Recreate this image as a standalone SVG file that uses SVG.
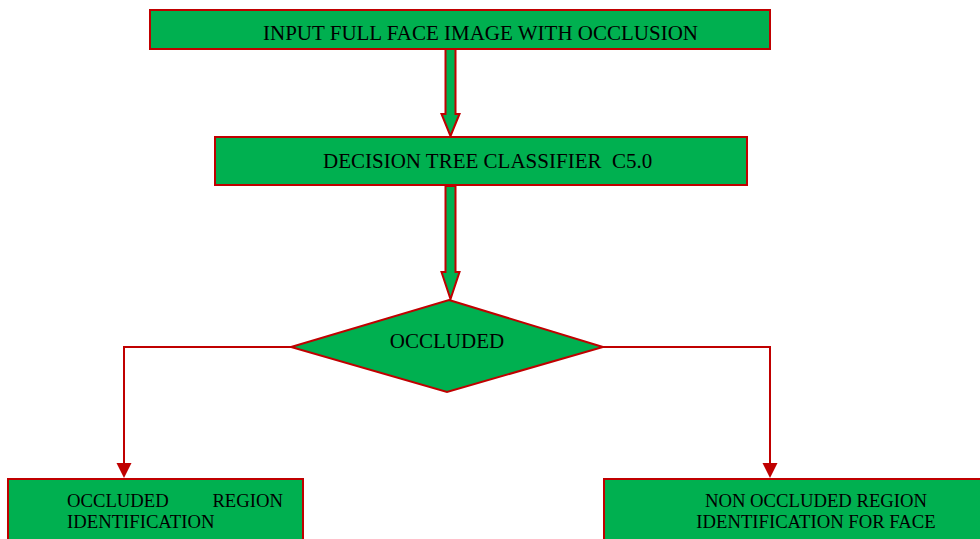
<svg xmlns="http://www.w3.org/2000/svg" width="980" height="539" viewBox="0 0 980 539">
  <style>
    .node { fill: #00B050; stroke: #C00000; stroke-width: 2; }
    .t { font-family: "Liberation Serif", "Times New Roman", serif; fill: #000; }
    .big { font-size: 21px; }
    .small { font-size: 18.7px; }
    .line { fill: none; stroke: #C00000; stroke-width: 2; }
    .fat { fill: #00B050; stroke: #C00000; stroke-width: 2; stroke-linejoin: miter; }
  </style>
  <defs>
    <marker id="ah" markerUnits="userSpaceOnUse" markerWidth="16" markerHeight="16" refX="0" refY="7.5" orient="auto" viewBox="0 0 16 16">
      <path d="M0,0 L15,7.5 L0,15 Z" fill="#C00000"/>
    </marker>
  </defs>
  <rect width="980" height="539" fill="#fff"/>

  <g id="connectors">
    <polygon class="fat" points="445.5,49 455.5,49 455.5,114 459.5,114 450.5,136 441.5,114 445.5,114"/>
    <polygon class="fat" points="445.5,186 455.5,186 455.5,272 459.5,272 450.5,299 441.5,272 445.5,272"/>
    <path class="line" d="M291,347 H124 V463" marker-end="url(#ah)"/>
    <path class="line" d="M603,347 H770 V463" marker-end="url(#ah)"/>
  </g>

  <g id="input">
    <rect class="node" x="150" y="10" width="620" height="39"/>
    <text class="t big" x="480.5" y="40" text-anchor="middle">INPUT FULL FACE IMAGE WITH OCCLUSION</text>
  </g>

  <g id="classifier">
    <rect class="node" x="215" y="137" width="532" height="48"/>
    <text class="t big" x="323" y="168" xml:space="preserve">DECISION TREE CLASSIFIER  C5.0</text>
  </g>

  <g id="occluded">
    <polygon class="node" points="449,300 603,347 447,392 291,347"/>
    <text class="t big" x="447" y="348" text-anchor="middle">OCCLUDED</text>
  </g>

  <g id="occluded-region">
    <rect class="node" x="8" y="479" width="295" height="70"/>
    <text class="t small" x="67" y="507">OCCLUDED</text>
    <text class="t small" x="283" y="507" text-anchor="end">REGION</text>
    <text class="t small" x="67" y="528">IDENTIFICATION</text>
  </g>

  <g id="non-occluded-region">
    <rect class="node" x="604" y="479" width="400" height="70"/>
    <text class="t small" x="816" y="507" text-anchor="middle">NON OCCLUDED REGION</text>
    <text class="t small" x="816" y="528" text-anchor="middle">IDENTIFICATION FOR FACE</text>
  </g>
</svg>
